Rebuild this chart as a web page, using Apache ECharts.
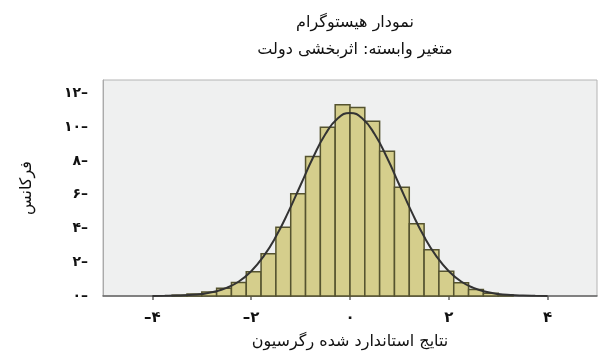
<!DOCTYPE html>
<html>
<head>
<meta charset="utf-8">
<script src="https://cdn.jsdelivr.net/npm/echarts@6/dist/echarts.min.js"></script>
<style>
  html, body { margin: 0; padding: 0; background: #fff; }
  #main { width: 598px; height: 361px; }
</style>
</head>
<body>
<div id="main"></div>
<script>
var mychart = echarts.init(document.getElementById('main'));

// left edge of each bin (width 0.3)
var binLeft = [-3.6, -3.3, -3.0, -2.7, -2.4, -2.1, -1.8, -1.5, -1.2, -0.9, -0.6, -0.3,
               0.0, 0.3, 0.6, 0.9, 1.2, 1.5, 1.8, 2.1, 2.4, 2.7, 3.0];
var binWidth = 0.3;
// heights
var frequency = [0.05, 0.12, 0.24, 0.46, 0.8, 1.44, 2.5, 4.08, 6.06, 8.26, 10.0, 11.34,
                 11.17, 10.36, 8.58, 6.44, 4.28, 2.74, 1.46, 0.78, 0.38, 0.16, 0.07];

// normal curve, read at steps of 0.25
var curveX = [-4, -3.75, -3.5, -3.25, -3, -2.75, -2.5, -2.25, -2, -1.75, -1.5, -1.25, -1, -0.75, -0.5, -0.25,
              0, 0.25, 0.5, 0.75, 1, 1.25, 1.5, 1.75, 2, 2.25, 2.5, 2.75, 3, 3.25, 3.5, 3.75, 4];
var curveY = [0.004, 0.01, 0.024, 0.055, 0.12, 0.25, 0.48, 0.86, 1.47, 2.35, 3.52, 4.97, 6.58, 8.19, 9.58, 10.52,
              10.85, 10.52, 9.58, 8.19, 6.58, 4.97, 3.52, 2.35, 1.47, 0.86, 0.48, 0.25, 0.12, 0.055, 0.024, 0.01, 0.004];

var xTickValues = [-4, -2, 0, 2, 4];
var xTickLabels = ['–۴', '–۲', '۰', '۲', '۴'];
var yTickValues = [0, 2, 4, 6, 8, 10, 12];
var yTickLabels = ['۰', '۲', '۴', '۶', '۸', '۱۰', '۱۲'];

var bars = [];
for (let i = 0; i < binLeft.length; i++) {
    bars.push([binLeft[i], binLeft[i] + binWidth, frequency[i]]);
}
var curve = [];
for (let i = 0; i < curveX.length; i++) {
    curve.push([curveX[i], curveY[i]]);
}

var font = '"DejaVu Sans", "Noto Sans", sans-serif';

var option = {
    animation: false,
    textStyle: { fontFamily: font },
    title: {
        text: 'نمودار هیستوگرام\nمتغیر وابسته: اثربخشی دولت',
        left: 350,
        top: 4,
        textAlign: 'center',
        textStyle: {
            fontFamily: font,
            fontSize: 16,
            fontWeight: 'normal',
            color: '#111',
            lineHeight: 27
        }
    },
    grid: {
        left: 103,
        right: 1,
        top: 80,
        bottom: 65,
        show: true,
        backgroundColor: '#eff0f0',
        borderColor: '#b4b4b4',
        borderWidth: 1
    },
    xAxis: {
        type: 'value',
        min: -5,
        max: 5,
        name: 'نتایج استاندارد شده رگرسیون',
        nameLocation: 'middle',
        nameGap: 38,
        nameTextStyle: { fontFamily: font, fontSize: 16, color: '#111' },
        axisLine: { onZero: false, lineStyle: { color: '#666', width: 1.5 } },
        axisTick: { customValues: xTickValues, length: 4, lineStyle: { color: '#666', width: 1.5 } },
        axisLabel: {
            customValues: xTickValues,
            formatter: function (v) { return xTickLabels[xTickValues.indexOf(v)]; },
            margin: 15,
            fontSize: 15,
            fontWeight: 'bold',
            color: '#111'
        },
        splitLine: { show: false }
    },
    yAxis: {
        type: 'value',
        min: 0,
        max: 12.8,
        name: 'فرکانس',
        nameLocation: 'middle',
        nameRotate: 90,
        nameGap: 68,
        nameTextStyle: { fontFamily: font, fontSize: 16, color: '#111' },
        axisLine: { show: true, onZero: false, lineStyle: { color: '#aaa' } },
        axisTick: { show: false },
        axisLabel: {
            customValues: yTickValues,
            formatter: function (v) { return yTickLabels[yTickValues.indexOf(v)] + '–'; },
            margin: 15,
            fontSize: 14,
            fontWeight: 'bold',
            color: '#111'
        },
        splitLine: { show: false }
    },
    series: [
        {
            type: 'custom',
            data: bars,
            encode: { x: [0, 1], y: 2 },
            renderItem: function (params, api) {
                var p0 = api.coord([api.value(0), api.value(2)]);
                var p1 = api.coord([api.value(1), 0]);
                return {
                    type: 'rect',
                    shape: { x: p0[0], y: p0[1], width: p1[0] - p0[0], height: p1[1] - p0[1] },
                    style: { fill: '#d5ce8c', stroke: '#55532f', lineWidth: 1.5 }
                };
            },
            z: 2
        },
        {
            type: 'line',
            data: curve,
            smooth: true,
            showSymbol: false,
            lineStyle: { color: '#333', width: 2 },
            z: 3
        }
    ]
};

mychart.setOption(option);
</script>
</body>
</html>
